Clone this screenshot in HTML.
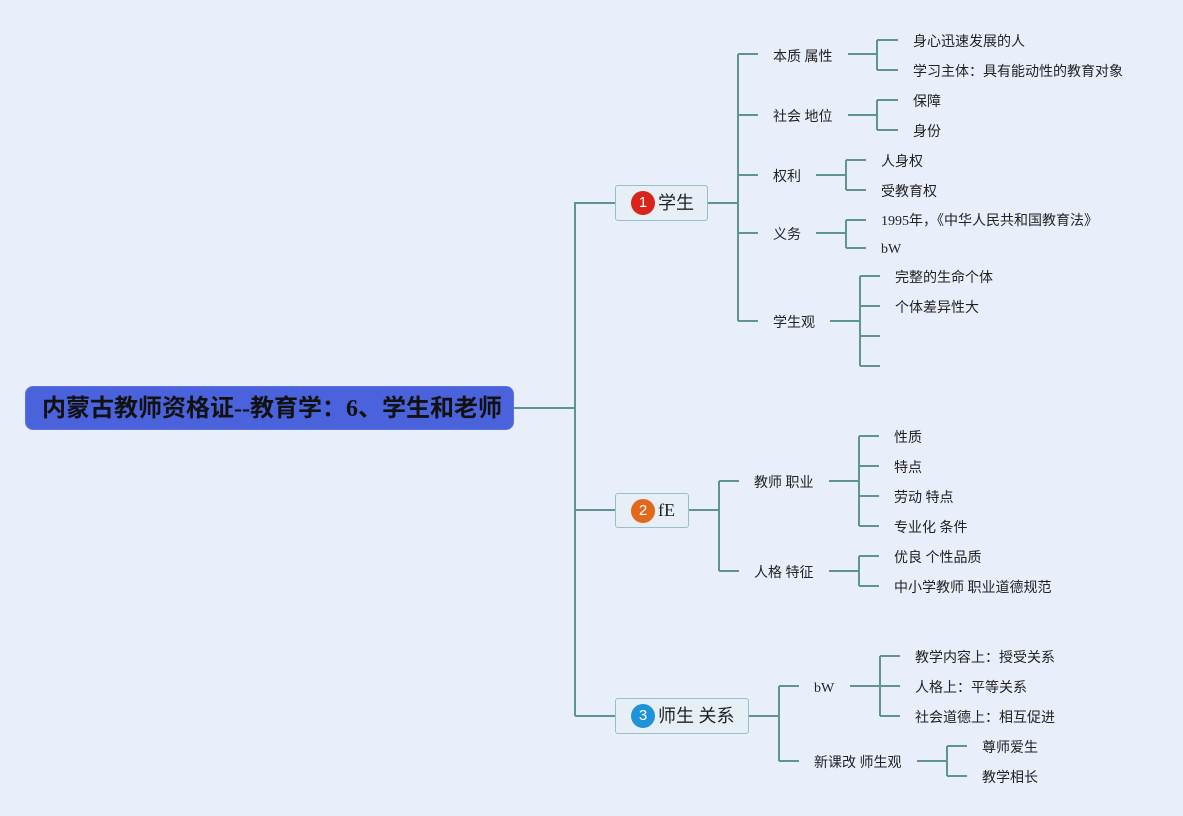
<!DOCTYPE html>
<html>
<head>
<meta charset="utf-8">
<style>
  html,body{margin:0;padding:0;}
  body{width:1183px;height:816px;background:#e9eefb;position:relative;overflow:hidden;
    font-family:"Liberation Serif","Noto Sans CJK SC",sans-serif;color:#222;}
  svg{position:absolute;left:0;top:0;}
  .t{position:absolute;font-size:14px;line-height:20px;white-space:nowrap;margin-top:2px;
     font-family:"Liberation Serif","Noto Sans CJK SC",sans-serif;}
  .root{position:absolute;left:25px;top:386px;width:489px;height:44px;background:#4a63dc;
    border-radius:8px;box-sizing:border-box;border:1px solid #5c74e0;}
  .root span{position:absolute;left:16px;top:7px;font-size:24px;line-height:30px;font-weight:bold;color:#111;
    white-space:nowrap;font-family:"Liberation Serif","Noto Sans CJK SC",sans-serif;}
  .node{position:absolute;background:#e6eef6;border:1.5px solid #97bfc6;border-radius:3px;box-sizing:border-box;}
  .node .c{position:absolute;left:15px;width:24px;height:24px;border-radius:50%;color:#fff;
    font-family:"Liberation Sans",sans-serif;font-size:15px;line-height:24px;text-align:center;}
  .node .l{position:absolute;left:42px;font-size:18px;line-height:24px;white-space:nowrap;color:#222;
    font-family:"Liberation Serif","Noto Sans CJK SC",sans-serif;}
</style>
</head>
<body>
<svg width="1183" height="816" viewBox="0 0 1183 816" fill="none" stroke="#5e9592" stroke-width="2">
  <path d="M514 408H575 M575 202V716 M575 203H615 M575 510H615 M575 716H615"/>
  <path d="M708 203H738 M738 54V321 M738 54H758 M738 115H758 M738 175H758 M738 233H758 M738 321H758"/>
  <path d="M848 54H877 M877 40V70 M877 40H898 M877 70H898"/>
  <path d="M848 115H877 M877 100V130 M877 100H898 M877 130H898"/>
  <path d="M816 175H846 M846 160V190 M846 160H866 M846 190H866"/>
  <path d="M816 233H846 M846 220V248 M846 220H866 M846 248H866"/>
  <path d="M830 321H860 M860 276V366 M860 276H880 M860 306H880 M860 336H880 M860 366H880"/>
  <path d="M689 510H719 M719 481V571 M719 481H739 M719 571H739"/>
  <path d="M829 481H859 M859 436V526 M859 436H879 M859 466H879 M859 496H879 M859 526H879"/>
  <path d="M829 571H859 M859 556V586 M859 556H879 M859 586H879"/>
  <path d="M749 716H779 M779 686V761 M779 686H799 M779 761H799"/>
  <path d="M850 686H880 M880 656V716 M880 656H900 M880 686H900 M880 716H900"/>
  <path d="M917 761H947 M947 746V776 M947 746H967 M947 776H967"/>
</svg>

<div class="root"><span>内蒙古教师资格证--教育学：6、学生和老师</span></div>

<div class="node" style="left:615px;top:185px;width:93px;height:36px;">
  <div class="c" style="top:5px;background:#d8241a;">1</div>
  <div class="l" style="top:5px;">学生</div>
</div>
<div class="node" style="left:615px;top:493px;width:74px;height:35px;">
  <div class="c" style="top:5px;background:#e2691c;">2</div>
  <div class="l" style="top:4px;">fE</div>
</div>
<div class="node" style="left:615px;top:698px;width:134px;height:36px;">
  <div class="c" style="top:5px;background:#1f93d8;">3</div>
  <div class="l" style="top:5px;">师生 关系</div>
</div>

<div class="t" style="left:773px;top:46px;">本质 属性</div>
<div class="t" style="left:773px;top:106px;">社会 地位</div>
<div class="t" style="left:773px;top:166px;">权利</div>
<div class="t" style="left:773px;top:224px;">义务</div>
<div class="t" style="left:773px;top:312px;">学生观</div>

<div class="t" style="left:913px;top:31px;">身心迅速发展的人</div>
<div class="t" style="left:913px;top:61px;">学习主体：具有能动性的教育对象</div>
<div class="t" style="left:913px;top:91px;">保障</div>
<div class="t" style="left:913px;top:121px;">身份</div>
<div class="t" style="left:881px;top:151px;">人身权</div>
<div class="t" style="left:881px;top:181px;">受教育权</div>
<div class="t" style="left:881px;top:210px;">1995年，《中华人民共和国教育法》</div>
<div class="t" style="left:881px;top:238px;">bW</div>
<div class="t" style="left:895px;top:267px;">完整的生命个体</div>
<div class="t" style="left:895px;top:297px;">个体差异性大</div>

<div class="t" style="left:754px;top:472px;">教师 职业</div>
<div class="t" style="left:754px;top:562px;">人格 特征</div>
<div class="t" style="left:894px;top:427px;">性质</div>
<div class="t" style="left:894px;top:457px;">特点</div>
<div class="t" style="left:894px;top:487px;">劳动 特点</div>
<div class="t" style="left:894px;top:517px;">专业化 条件</div>
<div class="t" style="left:894px;top:547px;">优良 个性品质</div>
<div class="t" style="left:894px;top:577px;">中小学教师 职业道德规范</div>

<div class="t" style="left:814px;top:677px;">bW</div>
<div class="t" style="left:814px;top:752px;">新课改 师生观</div>
<div class="t" style="left:915px;top:647px;">教学内容上：授受关系</div>
<div class="t" style="left:915px;top:677px;">人格上：平等关系</div>
<div class="t" style="left:915px;top:707px;">社会道德上：相互促进</div>
<div class="t" style="left:982px;top:737px;">尊师爱生</div>
<div class="t" style="left:982px;top:767px;">教学相长</div>
</body>
</html>
